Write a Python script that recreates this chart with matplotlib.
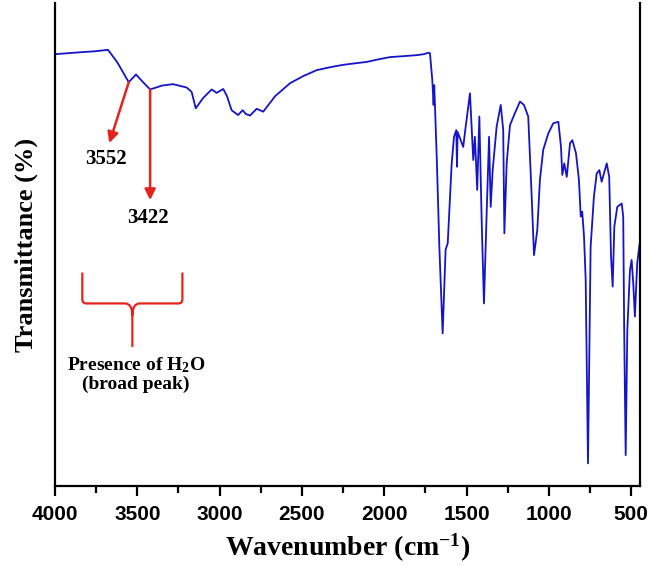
import matplotlib
matplotlib.use("Agg")
import matplotlib.pyplot as plt
from matplotlib.path import Path
from matplotlib.patches import PathPatch
from matplotlib.ticker import MultipleLocator

plt.rcParams['mathtext.default'] = 'regular'

# FTIR spectrum, wavenumber (cm-1) vs transmittance (arb. %)
wavenumber = [4000, 3848, 3760, 3678, 3623, 3552, 3508, 3465, 3422, 3350,
              3283, 3200, 3170, 3145, 3101, 3048, 3018, 2978, 2955, 2927,
              2888, 2860, 2840, 2815, 2775, 2735, 2663, 2572, 2490, 2410,
              2330, 2249, 2180, 2106, 2040, 1965, 1880, 1803, 1760, 1732,
              1722, 1708, 1700, 1696, 1681, 1665, 1645, 1627,
              1614, 1590, 1576, 1562, 1558, 1554, 1520, 1505, 1479, 1459,
              1449, 1435, 1422, 1408, 1394, 1377, 1363, 1353, 1341, 1317,
              1292, 1277, 1270, 1256, 1236, 1206, 1175, 1151, 1125, 1104,
              1090, 1070, 1054, 1034, 1003, 973, 942, 926, 918, 906,
              891, 871, 857, 835, 817, 806, 797, 786, 776, 762,
              746, 726, 709, 693, 679, 665, 648, 633, 622, 612,
              602, 584, 557, 548, 542, 533, 523, 507, 497, 487,
              477, 463, 451, 446]
transmittance = [89.4, 89.8, 90.0, 90.3, 87.8, 83.6, 85.2, 83.6, 82.1, 82.9,
                 83.2, 82.5, 81.6, 78.2, 80.3, 82.1, 81.4, 82.2, 80.7, 77.8,
                 76.8, 77.8, 77.0, 76.7, 78.1, 77.5, 80.7, 83.4, 84.9, 86.1,
                 86.7, 87.2, 87.5, 87.8, 88.3, 88.8, 89.0, 89.2, 89.4, 89.7,
                 89.6, 84.1, 78.9, 83.0, 68.2, 49.5, 31.6, 48.9,
                 50.3, 66.8, 72.3, 73.7, 66.1, 73.3, 70.2, 74.4, 81.3, 67.5,
                 72.3, 61.3, 76.5, 55.1, 37.8, 57.1, 72.3, 57.8, 65.4, 74.4,
                 78.9, 73.7, 52.3, 66.8, 74.7, 77.2, 79.6, 78.9, 76.5, 59.9,
                 47.8, 53.0, 63.4, 69.6, 73.0, 75.1, 75.4, 70.2, 64.4, 66.8,
                 64.0, 71.0, 71.6, 68.9, 63.4, 55.8, 56.8, 51.6, 42.7, 4.7,
                 49.5, 59.9, 64.7, 65.4, 63.0, 64.7, 66.8, 64.0, 47.5, 41.3,
                 53.7, 57.8, 58.5, 55.8, 32.3, 6.4, 32.3, 44.7, 46.8, 42.0,
                 35.1, 46.1, 49.5, 50.5]

# labelled peaks: position on the curve, arrow tip and label position
peak_labels = ['3552', '3422']
peak_wn = [3552, 3422]
peak_t = [83.6, 82.1]
tip_wn = [3670, 3422]
tip_t = [71.0, 59.2]
text_wn = [3690, 3435]
text_t = [67.8, 55.4]

red = '#e3231c'
blue = '#1414c8'
serif_bold = dict(family='Liberation Serif', weight='bold')

fig = plt.figure(figsize=(6.51, 5.66), dpi=100)
ax = fig.add_axes([0.0845, 0.1413, 0.8986, 0.8534])

ax.plot(wavenumber, transmittance, color=blue, lw=1.3)

for lab, x0, y0, x1, y1, tx, ty in zip(peak_labels, peak_wn, peak_t,
                                       tip_wn, tip_t, text_wn, text_t):
    ax.annotate('', xy=(x1, y1), xytext=(x0, y0),
                arrowprops=dict(arrowstyle='-|>', color=red, lw=1.8,
                                mutation_scale=16, shrinkA=0, shrinkB=0))
    ax.text(tx, ty, lab, ha='center', va='center', fontsize=15, **serif_bold)

# curly bracket marking the broad water band
xl, xr = 3834, 3226
xc = (xl + xr) / 2
ytop, yh, ybot = 44.2, 37.8, 28.8
verts = [(xl, ytop), (xl, yh + 0.9), (xl, yh), (xl - 25, yh),
         (xc + 45, yh), (xc, yh), (xc, yh - 2.5), (xc, ybot),
         (xc, yh - 2.5), (xc, yh), (xc - 45, yh),
         (xr + 25, yh), (xr, yh), (xr, yh + 0.9), (xr, ytop)]
codes = [Path.MOVETO, Path.LINETO, Path.CURVE3, Path.CURVE3,
         Path.LINETO, Path.CURVE3, Path.CURVE3, Path.LINETO,
         Path.MOVETO, Path.CURVE3, Path.CURVE3,
         Path.LINETO, Path.CURVE3, Path.CURVE3, Path.LINETO]
ax.add_patch(PathPatch(Path(verts, codes), facecolor='none', edgecolor=red, lw=1.6))

ax.text(3508, 25.0, 'Presence of H$_2$O', ha='center', va='center',
        fontsize=14, **serif_bold)
ax.text(3508, 21.0, '(broad peak)', ha='center', va='center',
        fontsize=14, **serif_bold)

ax.set_xlim(4000, 446)
ax.set_ylim(0, 100)
ax.xaxis.set_major_locator(MultipleLocator(500))
ax.xaxis.set_minor_locator(MultipleLocator(250))
ax.set_yticks([])

for side in ['left', 'right', 'bottom']:
    ax.spines[side].set_linewidth(1.6)
ax.spines['top'].set_visible(False)

ax.tick_params(axis='x', which='major', direction='out', length=7, width=1.6, pad=7)
ax.tick_params(axis='x', which='minor', direction='out', length=5, width=1.6)
for t in ax.get_xticklabels():
    t.set_family('Liberation Sans')
    t.set_weight('bold')
    t.set_fontsize(15)

ax.set_xlabel('Wavenumber (cm$^{-1}$)', fontsize=20, labelpad=5, **serif_bold)
ax.set_ylabel('Transmittance (%)', fontsize=19, labelpad=12, **serif_bold)

fig.savefig('out.png', dpi=100)
